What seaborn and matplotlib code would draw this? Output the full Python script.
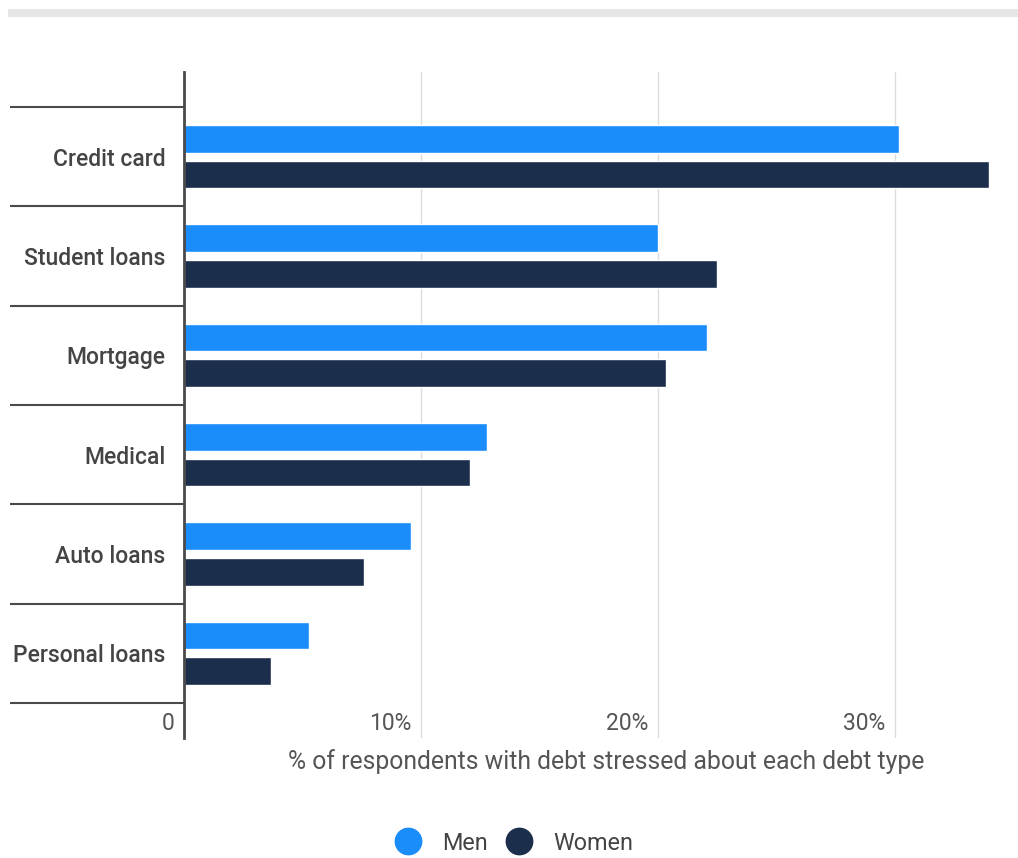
import matplotlib
matplotlib.use("Agg")
import matplotlib.pyplot as plt
import matplotlib.transforms as mtransforms
from matplotlib.lines import Line2D
from matplotlib.patches import Rectangle
import seaborn as sns
import pandas as pd

categories = ["Credit card", "Student loans", "Mortgage", "Medical", "Auto loans", "Personal loans"]
men = [30.2, 20.0, 22.1, 12.8, 9.6, 5.3]
women = [34.0, 22.5, 20.35, 12.1, 7.6, 3.7]
series = ["Men", "Women"]
colors = ["#1a8dfb", "#1b2e4b"]
xticks = [0, 10, 20, 30]
xticklabels = ["0", "10%", "20%", "30%"]
xlabel = "% of respondents with debt stressed about each debt type"

df = pd.DataFrame({
    "category": categories * 2,
    "value": men + women,
    "series": ["Men"] * len(categories) + ["Women"] * len(categories),
})

sns.set_theme(style="white")
plt.rcParams["font.family"] = ["Roboto", "DejaVu Sans"]

W, H = 1018, 858
fig = plt.figure(figsize=(W / 100, H / 100), dpi=100)
ax = fig.add_axes([183.8 / W, 1 - 738 / H, 1 - 183.8 / W, (738 - 72) / H])

sns.barplot(data=df, x="value", y="category", hue="series", order=categories,
            hue_order=series, palette=colors, orient="h", width=0.72, gap=8 / 36,
            saturation=1, ax=ax, legend=False)

xmax = (W - 183.8) / 23.69
ax.set_xlim(0, xmax)
band = 99.3
ax.set_ylim(5.5 + 35 / band, -0.5 - 35 / band)

# gridlines
for xv in xticks[1:]:
    ax.axvline(xv, color="#dcdcdc", lw=1, zorder=0)

for s in ["top", "right", "bottom"]:
    ax.spines[s].set_visible(False)
ax.spines["left"].set_color("#4a4a4a")
ax.spines["left"].set_linewidth(2)

# y ticks: labels at centers, long separators at boundaries (minor ticks)
ax.set_yticks(range(len(categories)))
ax.set_yticklabels(categories, fontsize=16.5, color="#444444", fontweight="medium")
ax.tick_params(axis="y", which="major", left=True, length=0, pad=13)
ax.set_yticks([i - 0.5 for i in range(len(categories) + 1)], minor=True)
ax.tick_params(axis="y", which="minor", left=True, length=(183.8 - 10) * 0.72, width=1.5,
               color="#4a4a4a", direction="out")
ax.set_ylabel("")

# x ticks: labels inside, right-aligned to left of grid line
ax.set_xticks(xticks)
ax.set_xticklabels(xticklabels, fontsize=16.5, color="#555555")
ax.tick_params(axis="x", length=0, pad=-19)
offset = mtransforms.ScaledTranslation(-9 / 100, 0, fig.dpi_scale_trans)
for lbl in ax.get_xticklabels():
    lbl.set_horizontalalignment("right")
    lbl.set_transform(lbl.get_transform() + offset)

ax.set_xlabel("")
fig.text(606 / W, 1 - 762 / H, xlabel, ha="center", va="center", fontsize=17.8, color="#555555")

# top decorative band
fig.patches.append(Rectangle((8 / W, 1 - 17 / H), 1, 8 / H, transform=fig.transFigure,
                             facecolor="#e6e6e6", edgecolor="none"))

handles = [Line2D([], [], marker="o", linestyle="none", markersize=19,
                  markerfacecolor=c, markeredgecolor=c) for c in colors]
fig.legend(handles, series, loc="center", bbox_to_anchor=(509 / W, 1 - 843 / H), ncol=2,
           frameon=False, fontsize=16.8, handletextpad=0.47, columnspacing=0.33,
           labelcolor="#444444")

fig.savefig("out.png", dpi=100)
